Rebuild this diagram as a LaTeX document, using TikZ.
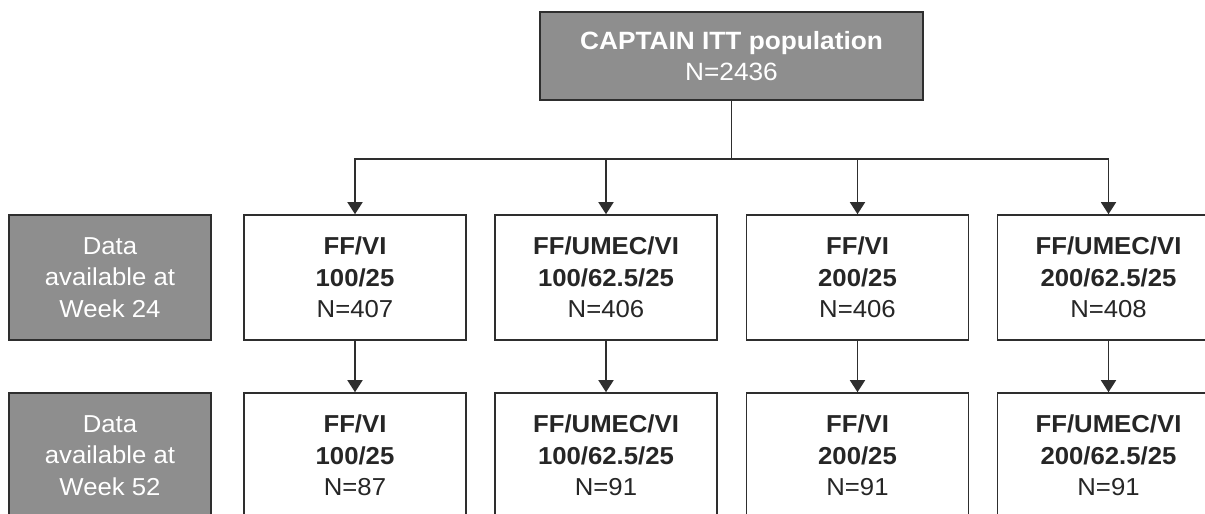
\documentclass[tikz,border=0pt]{standalone}
\usepackage{fontspec}
\setmainfont{Liberation Sans}[FakeStretch=1.05]
\usetikzlibrary{arrows.meta}
\definecolor{boxgray}{HTML}{8E8E8E}
\definecolor{linegray}{HTML}{2E2E2E}
\begin{document}
\begin{tikzpicture}[x=1pt,y=-1pt,
  box/.style={draw=linegray, line width=1.6pt, fill=white, minimum width=222pt, minimum height=125pt, align=center, font=\fontsize{24.5}{31.5}\selectfont, inner sep=0pt, text=black!85},
  graybox/.style={box, fill=boxgray, text=white, minimum width=202pt},
  arr/.style={draw=linegray, line width=1.6pt, -{Triangle[width=15pt,length=12pt]}}]
\useasboundingbox (0,0) rectangle (1205,514);
\begin{scope}
\clip (0,0) rectangle (1205,514);
\node[graybox, minimum width=383pt, minimum height=88pt, font=\fontsize{25}{31}\selectfont] (top) at (731.5,56) {\textbf{CAPTAIN ITT population}\\N=2436};
\coordinate (split) at (731.5,159);

\node[graybox] (g1) at (110,277.5) {Data\\available at\\Week 24};
\node[graybox] (g2) at (110,455.5) {Data\\available at\\Week 52};

\node[box] (a1) at (355,277.5) {\textbf{FF/VI}\\\textbf{100/25}\\N=407};
\node[box] (a2) at (606,277.5) {\textbf{FF/UMEC/VI}\\\textbf{100/62.5/25}\\N=406};
\node[box] (a3) at (857.5,277.5) {\textbf{FF/VI}\\\textbf{200/25}\\N=406};
\node[box] (a4) at (1108.5,277.5) {\textbf{FF/UMEC/VI}\\\textbf{200/62.5/25}\\N=408};

\node[box] (b1) at (355,455.5) {\textbf{FF/VI}\\\textbf{100/25}\\N=87};
\node[box] (b2) at (606,455.5) {\textbf{FF/UMEC/VI}\\\textbf{100/62.5/25}\\N=91};
\node[box] (b3) at (857.5,455.5) {\textbf{FF/VI}\\\textbf{200/25}\\N=91};
\node[box] (b4) at (1108.5,455.5) {\textbf{FF/UMEC/VI}\\\textbf{200/62.5/25}\\N=91};

\draw[draw=linegray, line width=1.6pt] (top.south) -- (split);
\foreach \i in {1,2,3,4}{
  \draw[arr] (split) -| (a\i.north);
  \draw[arr] (a\i.south) -- (b\i.north);
}
\end{scope}
\end{tikzpicture}
\end{document}
